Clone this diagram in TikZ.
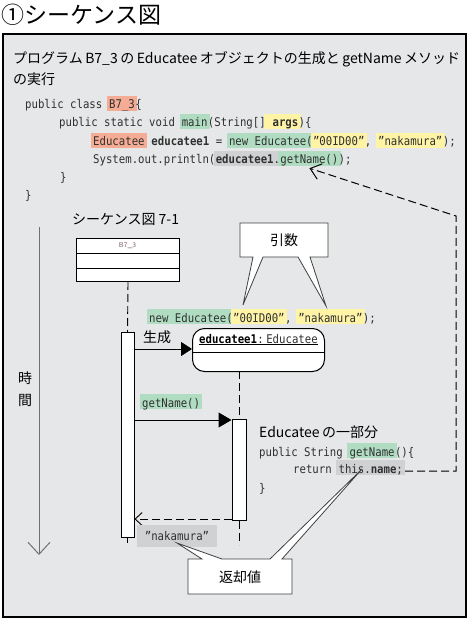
\documentclass[tikz,border=0pt]{standalone}
\usepackage{fontspec}
\setmainfont{Noto Sans CJK JP}
\newfontfamily\jpf{Noto Sans CJK JP}
\newfontfamily\codef[FakeStretch=0.89]{DejaVu Sans Mono}
\usetikzlibrary{arrows.meta}
\pgfdeclarelayer{bglow}
\pgfdeclarelayer{hilite}
\pgfsetlayers{bglow,hilite,main}
\definecolor{bgc}{HTML}{E6E7E8}
\definecolor{salm}{HTML}{F5AC94}
\definecolor{grn}{HTML}{B0DDC2}
\definecolor{yel}{HTML}{FFF4A6}
\definecolor{hgr}{HTML}{D0D1D3}
\definecolor{codec}{HTML}{303030}
\definecolor{axisc}{HTML}{707070}
\definecolor{clsc}{HTML}{7A5A6A}
\newcommand\csp{\hphantom{x}}
\newcommand\lsp{\hspace{2.5pt}}
\newcommand\hl[2]{\begin{pgfonlayer}{hilite}\fill[#1] ([xshift=-2pt]#2.south west) rectangle ([xshift=2pt]#2.north east);\end{pgfonlayer}}
\begin{document}
\begin{tikzpicture}[x=1pt,y=-1pt,
  cs/.style={anchor=base west, inner xsep=0pt, inner ysep=1.5pt, text height=11pt, text depth=0.5pt, font=\codef\fontsize{12pt}{14pt}\selectfont, text=codec},
  jp/.style={font=\jpf\fontsize{14pt}{16pt}\selectfont, inner sep=0pt},
  dsh/.style={dash pattern=on 8pt off 4pt, line width=0.9pt},
  bar/.style={draw, fill=white, line width=1pt, minimum width=13pt, inner sep=0pt, anchor=north},
  callout/.style={draw=black!75, fill=white, line width=0.8pt}]
\useasboundingbox (0,0) rectangle (468,620);
% title
\node[anchor=west, inner sep=0pt, font=\jpf\fontsize{23pt}{26pt}\selectfont] (title) at (1,15) {①シーケンス図};
% outer panel
\begin{pgfonlayer}{bglow}
\draw[fill=bgc, line width=1.3pt] (3,34) rectangle (466,617);
\end{pgfonlayer}
% heading
\node[jp, anchor=base west] (h1) at (13,64) {プログラム\lsp B7\_3\lsp の\lsp Educatee\lsp オブジェクトの生成と\lsp getName\lsp メソッド};
\node[jp, anchor=base west] (h2) at (13,85) {の実行};
% code line 1
\node[cs] (a1) at (25,109) {public class\csp};
\node[cs] (a2) at (a1.base east) {B7\_3};
\node[cs] (a3) at (a2.base east) {\{};
\hl{salm}{a2}
% code line 2
\node[cs] (b1) at (59,127) {public static void\csp};
\node[cs] (b2) at (b1.base east) {main};
\node[cs] (b3) at (b2.base east) {(String[]};
\node[cs] (b4) at (b3.base east) {\csp\textbf{args}};
\node[cs] (b5) at (b4.base east) {)\{};
\hl{grn}{b2}\hl{yel}{b4}
% code line 3
\node[cs] (c1) at (93,145.5) {Educatee};
\node[cs] (c2) at (c1.base east) {\csp\textbf{educatee1} =\csp};
\node[cs] (c3) at (c2.base east) {new Educatee(};
\node[cs] (c4) at (c3.base east) {”00ID00”};
\node[cs] (c5) at (c4.base east) {,\csp};
\node[cs] (c6) at (c5.base east) {”nakamura”};
\node[cs] (c7) at (c6.base east) {);};
\hl{salm}{c1}\hl{grn}{c3}\hl{yel}{c4}\hl{yel}{c6}
% code line 4
\node[cs] (d1) at (93,164) {System.out.println(};
\node[cs] (d2) at (d1.base east) {\textbf{educatee1}.};
\node[cs] (d3) at (d2.base east) {getName()};
\node[cs] (d4) at (d3.base east) {);};
\hl{hgr}{d2}\hl{grn}{d3}
% code lines 5,6
\node[cs] (e1) at (60,182) {\}};
\node[cs] (f1) at (25,200) {\}};
% sequence heading
\node[jp, anchor=base west] (sh) at (72,224) {シーケンス図 7-1};
% time axis
\coordinate (t0) at (39,227);
\coordinate (t1) at (39,555);
\draw[axisc, line width=1pt, -{Straight Barb[length=12pt,width=22pt]}] (t0) -- (t1);
\node[jp] (ti1) at (25,378) {時};
\node[jp] (ti2) at (25,400) {間};
% class box
\node[draw, fill=white, line width=1pt, minimum width=103pt, minimum height=43pt, inner sep=0pt, anchor=north west] (cls) at (76,238) {};
\draw[line width=1pt] (76,253) -- (179,253);
\draw[line width=1pt] (76,268) -- (179,268);
\node[font=\fontsize{7pt}{8pt}\selectfont\sffamily, text=clsc, inner sep=0pt] (clsname) at (127.5,245.5) {B7\_3};
% activation bars
\node[bar, minimum height=205pt] (bar1) at (127.5,332) {};
\node[bar, minimum width=14pt, minimum height=101pt] (bar2) at (239,419) {};
\coordinate (b1end) at (127.5,543);
\coordinate (b2end) at (239,545);
\coordinate (ol0) at (239,371);
% object box
\node[draw, fill=white, line width=1pt, rounded corners=12pt, minimum width=132pt, minimum height=43pt, inner sep=0pt, anchor=north west] (obj) at (192,328) {};
\draw[line width=1pt] (192,352) -- (324,352);
\node[cs, font=\codef\fontsize{12pt}{14pt}\selectfont\bfseries, text=black] (o1) at (199,343) {educatee1};
\node[cs] (o2) at (o1.base east) {:\,};
\node[cs] (o3) at (o2.base east) {Educatee};
\hl{salm}{o3}
\draw[line width=1pt] ([yshift=-1.5pt]o1.base west) -- ([yshift=-1.5pt]o3.base east);
% lifelines
\draw[dsh] (cls.south) -- (bar1.north);
\draw[dsh] (bar1.south) -- (b1end);
\draw[dsh] (ol0) -- (bar2.north);
\draw[dsh] (bar2.south) -- (b2end);
% new Educatee label
\node[cs] (n1) at (149,322) {new Educatee(};
\node[cs] (n2) at (n1.base east) {”00ID00”};
\node[cs] (n3) at (n2.base east) {,\csp};
\node[cs] (n4) at (n3.base east) {”nakamura”};
\node[cs] (n5) at (n4.base east) {);};
\hl{grn}{n1}\hl{yel}{n2}\hl{yel}{n4}
% create message
\node[jp] (gen) at (157,337.5) {生成};
\draw[line width=1pt, -{Triangle[length=11pt,width=14pt]}] (bar1.east |- 0,349) -- (obj.west |- 0,349);
% call message
\node[cs] (gl) at (142,407) {getName()};
\hl{grn}{gl}
\draw[line width=1pt, -{Triangle[length=13pt,width=15pt]}] (bar1.east |- 0,420) -- (bar2.west |- 0,420);
% return message
\draw[dsh, -{Straight Barb[length=7pt,width=13pt]}] (bar2.west |- 0,519) -- (bar1.east |- 0,519);
\node[fill=hgr, minimum width=80pt, minimum height=22pt, inner sep=0pt, font=\codef\fontsize{12pt}{14pt}\selectfont, text=codec] (nk) at (177,536) {”nakamura”};
% Educatee part
\node[jp, anchor=base west] (ep) at (259,437) {Educatee\hspace{2.5pt}の一部分};
\node[cs] (p1) at (259,456) {public String\csp};
\node[cs] (p2) at (p1.base east) {getName};
\node[cs] (p3) at (p2.base east) {()\{};
\hl{grn}{p2}
\node[cs] (r1) at (293,473) {return\csp};
\node[cs] (r2) at (r1.base east) {this.\textbf{name};};
\hl{hgr}{r2}
\node[cs] (p4) at (259,492) {\}};
% long dashed return to getName()
\coordinate (turn) at (456,216);
\draw[dsh, line width=1pt, -{Straight Barb[length=10pt,width=16pt]}] ([shift={(2pt,2pt)}]r2.base east) -| (turn) -- ([yshift=-2pt]d3.south);
% callout 引数
\draw[callout] (240,223) -- (328,223) -- (328,257) -- (310,257) -- (326,306) -- (298,257) -- (263,257) -- (243,305) -- (253,257) -- (240,257) -- cycle;
\node[jp] (arg) at (284,240) {引数};
% callout 返却値
\draw[callout] (188,559) -- (202,559) -- (177,543) -- (222,559) -- (270,559) -- (362,469) -- (282,559) -- (292,559) -- (292,594) -- (188,594) -- cycle;
\node[jp] (ret) at (240,577) {返却値};
\end{tikzpicture}
\end{document}
